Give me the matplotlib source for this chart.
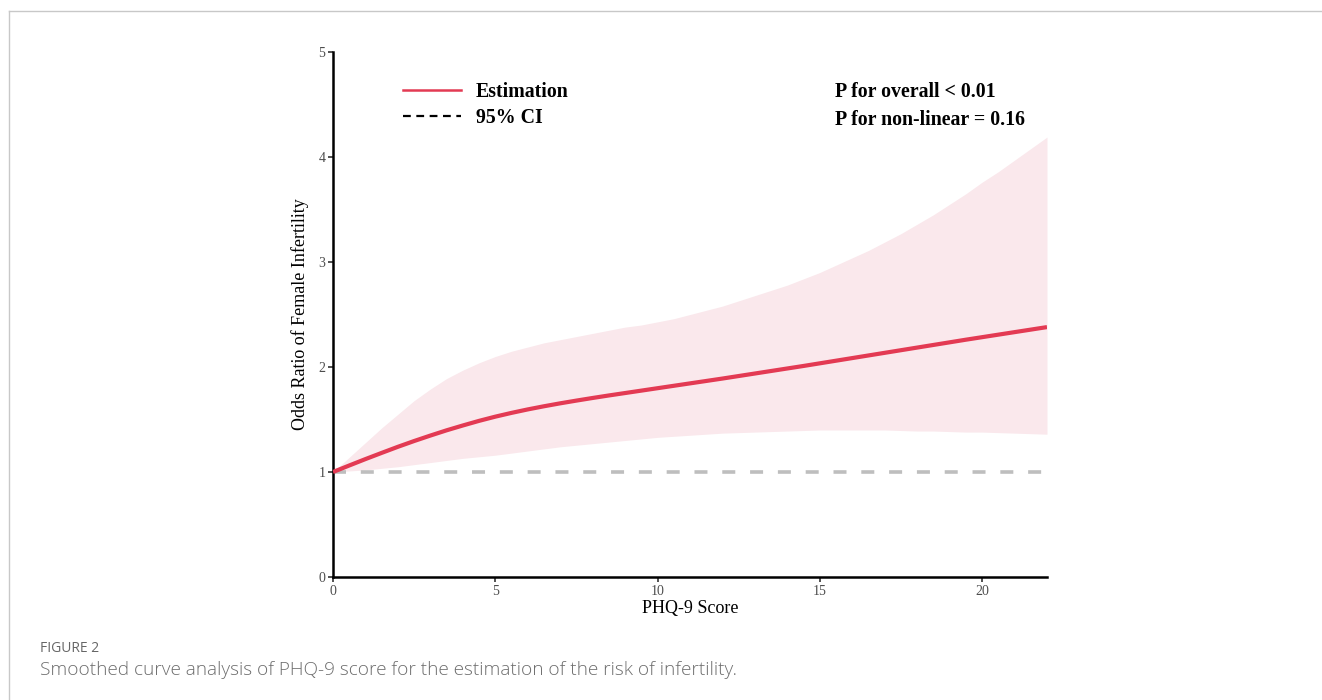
import matplotlib.pyplot as plt
import numpy as np
from matplotlib.lines import Line2D

# PHQ-9 score grid and the smoothed odds ratio with its 95% CI
phq9 = [0, 0.5, 1, 1.5, 2, 2.5, 3, 3.5, 4, 4.5, 5, 5.5, 6, 6.5, 7, 7.5, 8, 8.5, 9, 9.5,
        10, 10.5, 11, 11.5, 12, 12.5, 13, 13.5, 14, 14.5, 15, 15.5, 16, 16.5, 17, 17.5,
        18, 18.5, 19, 19.5, 20, 20.5, 21, 21.5, 22]
estimacao = [1.00, 1.062, 1.123, 1.182, 1.24, 1.295, 1.347, 1.397, 1.443, 1.487, 1.527, 1.563,
             1.596, 1.626, 1.654, 1.68, 1.705, 1.729, 1.752, 1.775, 1.798, 1.821, 1.844, 1.867,
             1.89, 1.914, 1.938, 1.962, 1.986, 2.01, 2.035, 2.06, 2.085, 2.11, 2.135, 2.16,
             2.185, 2.21, 2.235, 2.26, 2.284, 2.308, 2.332, 2.356, 2.38]
ic_superior = [1.00, 1.14, 1.28, 1.42, 1.55, 1.68, 1.79, 1.89, 1.97, 2.04, 2.10, 2.15,
               2.19, 2.23, 2.26, 2.29, 2.32, 2.35, 2.38, 2.40, 2.43, 2.46, 2.50, 2.54,
               2.58, 2.63, 2.68, 2.73, 2.78, 2.84, 2.90, 2.97, 3.04, 3.11, 3.19, 3.27,
               3.36, 3.45, 3.55, 3.65, 3.76, 3.86, 3.97, 4.08, 4.19]
ic_inferior = [1.00, 1.01, 1.02, 1.035, 1.05, 1.07, 1.09, 1.11, 1.13, 1.145, 1.16, 1.18,
               1.20, 1.22, 1.24, 1.255, 1.27, 1.285, 1.30, 1.315, 1.33, 1.34, 1.35, 1.36,
               1.37, 1.375, 1.38, 1.385, 1.39, 1.395, 1.40, 1.40, 1.40, 1.40, 1.40, 1.395,
               1.39, 1.39, 1.385, 1.38, 1.38, 1.375, 1.37, 1.365, 1.36]
linha_ref = 1.0

rotulos_legenda = ['Estimation', '95% CI']
textos_p = ['P for overall < 0.01', 'P for non-linear = 0.16']

VERMELHO = '#E33A53'
ROSA = '#FAE8EC'
SERIF = ['Liberation Serif', 'DejaVu Serif']
SANS = ['Open Sans', 'DejaVu Sans']

fig = plt.figure(figsize=(13.22, 7.0), dpi=100)
ax = fig.add_axes([333 / 1322, 123 / 700, 714 / 1322, 525 / 700])

x = np.array(phq9)
ax.fill_between(x, ic_inferior, ic_superior, color=ROSA, linewidth=0, zorder=1)
ax.axhline(linha_ref, color='#BEBEBE', linestyle=(0, (3.6, 4.1)), linewidth=2.6, zorder=2)
ax.plot(x, estimacao, color=VERMELHO, linewidth=3, zorder=3, solid_capstyle='butt')

ax.set_xlim(0, 22)
ax.set_ylim(0, 5)
ax.set_xticks([0, 5, 10, 15, 20])
ax.set_yticks([0, 1, 2, 3, 4, 5])

for lado in ['top', 'right']:
    ax.spines[lado].set_visible(False)
for lado in ['left', 'bottom']:
    ax.spines[lado].set_linewidth(1.8)
    ax.spines[lado].set_color('black')

ax.tick_params(axis='both', direction='out', length=3.5, width=1.2, color='#333333',
               labelcolor='#4D4D4D', labelsize=10, pad=2)
for lbl in ax.get_xticklabels() + ax.get_yticklabels():
    lbl.set_family(SERIF)

ax.set_xlabel('PHQ-9 Score', family=SERIF, fontsize=13, labelpad=2)
ax.set_ylabel('Odds Ratio of Female Infertility', family=SERIF, fontsize=13, labelpad=7)

handles = [
    Line2D([], [], color=VERMELHO, linewidth=1.8),
    Line2D([], [], color='black', linewidth=1.6, linestyle=(0, (3.5, 2.5))),
]
ax.legend(handles, rotulos_legenda, loc='upper left', bbox_to_anchor=(0.079, 0.969),
          frameon=False, handlelength=2.9, handletextpad=0.75, labelspacing=0.3,
          borderpad=0.2, prop={'family': SERIF, 'weight': 'bold', 'size': 14.3})

for i, texto in enumerate(textos_p):
    fig.text(835 / 1322, 1 - (92 + 28 * i) / 700, texto, family=SERIF, fontweight='bold',
             fontsize=14.3, va='center', ha='left')

# moldura cinza da figura
fig.add_artist(Line2D([9 / 1322, 1], [1 - 11 / 700, 1 - 11 / 700], color='#C8C8C8', linewidth=1))
fig.add_artist(Line2D([9 / 1322, 9 / 1322], [1 - 11 / 700, 0], color='#C8C8C8', linewidth=1))

fig.text(40 / 1322, 1 - 648 / 700, 'FIGURE 2', family=SANS,
         fontsize=10, color='#666666', va='center', ha='left')
fig.text(40 / 1322, 1 - 670 / 700,
         'Smoothed curve analysis of PHQ-9 score for the estimation of the risk of infertility.',
         family=SANS, fontsize=13.7, color='#6E6E6E',
         fontweight='light', va='center', ha='left')

fig.savefig('out.png', dpi=100)
